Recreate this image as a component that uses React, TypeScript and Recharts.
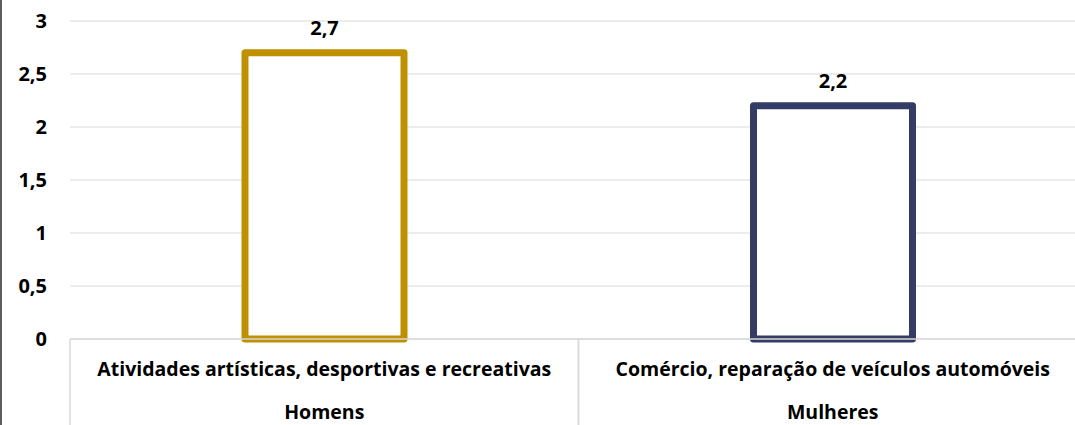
import React from 'react';
import { BarChart, Bar, XAxis, YAxis, CartesianGrid, Cell, LabelList } from 'recharts';

const categories = [
  'Atividades artísticas, desportivas e recreativas',
  'Comércio, reparação de veículos automóveis',
];
const groups = ['Homens', 'Mulheres'];
const values = [2.7, 2.2];
const yTicks = [0, 0.5, 1, 1.5, 2, 2.5, 3];
const COLORS = ['#BF9000', '#323C64'];

const data = categories.map((name, i) => ({ name, group: groups[i], value: values[i] }));

const FONT = '"Open Sans", sans-serif';
const comma = (v: any) => String(v).replace('.', ',');

const GroupTick = (props: any) => {
  const { x, y, payload, index } = props;
  const half = payload && payload.offset ? payload.offset : 254;
  const item = data[index] || data.find((d) => d.name === payload.value);
  return (
    <g>
      <line x1={x - half} x2={x - half} y1={y} y2={y + 90} stroke="#D9D9D9" strokeWidth={1.5} />
      <line x1={x + half} x2={x + half} y1={y} y2={y + 90} stroke="#D9D9D9" strokeWidth={1.5} />
      <text x={x} y={y + 37} textAnchor="middle" fontSize={19.5} fontWeight={700} fill="#000" fontFamily={FONT}>
        {payload.value}
      </text>
      <text x={x} y={y + 80} textAnchor="middle" fontSize={19.5} fontWeight={700} fill="#000" fontFamily={FONT}>
        {item ? item.group : ''}
      </text>
    </g>
  );
};

export default function App() {
  return (
    <div
      style={{
        position: 'absolute',
        left: 0,
        top: 0,
        width: 1075,
        height: 425,
        overflow: 'hidden',
        borderLeft: '2px solid #5F5F5F',
        boxSizing: 'border-box',
        background: '#fff',
      }}
    >
      <BarChart
        width={1085}
        height={430}
        data={data}
        margin={{ top: 21, right: 0, bottom: 0, left: 0 }}
        barCategoryGap={0}
      >
        <CartesianGrid vertical={false} stroke="#D9D9D9" strokeWidth={1.2} />
        <YAxis
          type="number"
          domain={[0, 3]}
          ticks={yTicks}
          width={68}
          axisLine={false}
          tickLine={false}
          tickSize={6}
          tickMargin={17}
          tickFormatter={comma}
          tick={{ fontSize: 20, fontWeight: 700, fill: '#000', fontFamily: FONT }}
        />
        <XAxis
          dataKey="name"
          height={91}
          interval={0}
          tickSize={0}
          tickMargin={0}
          axisLine={{ stroke: '#D9D9D9', strokeWidth: 1.5 }}
          tickLine={false}
          tick={<GroupTick />}
        />
        <Bar
          dataKey="value"
          barSize={159}
          fill="#fff"
          strokeWidth={7}
          strokeLinejoin="round"
          isAnimationActive={false}
        >
          {data.map((d, i) => (
            <Cell key={d.name} fill="#fff" stroke={COLORS[i]} />
          ))}
          <LabelList
            dataKey="value"
            position="top"
            offset={18}
            formatter={comma}
            style={{ fontSize: 20, fontWeight: 700, fill: '#000', fontFamily: FONT }}
          />
        </Bar>
      </BarChart>
    </div>
  );
}
